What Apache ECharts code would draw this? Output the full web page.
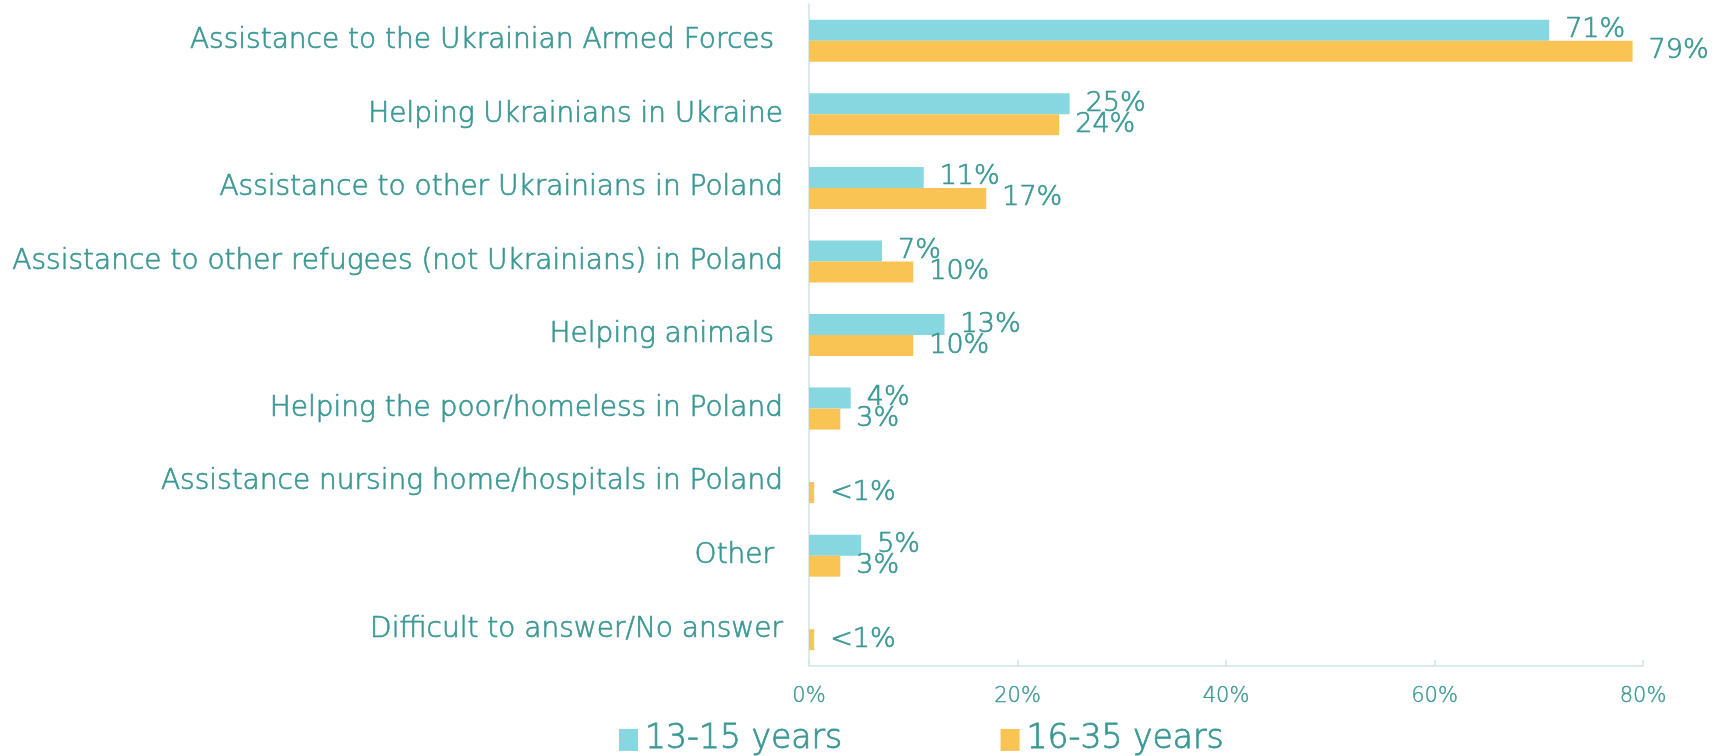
<!DOCTYPE html>
<html>
<head>
<meta charset="utf-8">
<title>Types of assistance by age group</title>
<script src="https://cdn.jsdelivr.net/npm/echarts@6/dist/echarts.min.js"></script>
<style>
  html, body { margin: 0; padding: 0; background: #ffffff; }
  #chart { width: 1715px; height: 756px; }
</style>
</head>
<body>
<div id="chart"></div>
<script>
// Categories, top to bottom
const categories = [
  'Assistance to the Ukrainian Armed Forces ',
  'Helping Ukrainians in Ukraine',
  'Assistance to other Ukrainians in Poland',
  'Assistance to other refugees (not Ukrainians) in Poland',
  'Helping animals ',
  'Helping the poor/homeless in Poland',
  'Assistance nursing home/hospitals in Poland',
  'Other ',
  'Difficult to answer/No answer'
];

// Shares in percent; 0.5 stands for "<1%", null means no answer given
const age13to15 = [71, 25, 11, 7, 13, 4, null, 5, null];
const age16to35 = [79, 24, 17, 10, 10, 3, 0.5, 3, 0.5];

const seriesNames = ['13-15 years', '16-35 years'];
const xTicks = { min: 0, max: 80, interval: 20 };

const TEXT = '#3a9894';
const AXIS = '#cfe5e5';
const FONT = 'DejaVu Sans';
const WEIGHT = 200;

// thin typeface, slightly thickened with an outline of the same colour
const textBase = (size, border) => ({
  color: TEXT,
  fontFamily: FONT,
  fontWeight: WEIGHT,
  fontSize: size,
  textBorderColor: TEXT,
  textBorderWidth: border
});

const fmtPct = p => {
  if (p.value == null) return '';
  return p.value < 1 ? '<1%' : p.value + '%';
};

const makeSeries = (name, values, color) => ({
  name: name,
  type: 'bar',
  data: values,
  barWidth: 21,
  barGap: '0%',
  itemStyle: { color: color },
  label: Object.assign({
    show: true,
    position: 'right',
    distance: 16,
    formatter: fmtPct
  }, textBase(27, 0.7))
});

const chart = echarts.init(document.getElementById('chart'), null, { renderer: 'canvas' });

chart.setOption({
  animation: false,
  backgroundColor: '#ffffff',
  textStyle: { fontFamily: FONT },
  grid: { left: 809, right: 72, top: 4, bottom: 90, containLabel: false },
  legend: {
    data: seriesNames,
    left: 614,
    top: 718,
    itemWidth: 19,
    itemHeight: 22,
    itemGap: 158,
    icon: 'rect',
    textStyle: Object.assign({ padding: [0, 0, 0, 2] }, textBase(33, 0.8))
  },
  xAxis: {
    type: 'value',
    min: xTicks.min,
    max: xTicks.max,
    interval: xTicks.interval,
    axisLine: { show: true, lineStyle: { color: AXIS, width: 1.5 } },
    axisTick: { show: true, inside: true, length: 6, lineStyle: { color: AXIS, width: 1.5 } },
    splitLine: { show: false },
    axisLabel: Object.assign({ formatter: '{value}%', margin: 20 }, textBase(21, 0.4))
  },
  yAxis: {
    type: 'category',
    data: categories,
    inverse: true,
    axisLine: { show: true, lineStyle: { color: AXIS, width: 1.5 } },
    axisTick: { show: false },
    axisLabel: Object.assign({ margin: 26 }, textBase(28, 0.7))
  },
  series: [
    makeSeries(seriesNames[0], age13to15, '#86d7df'),
    makeSeries(seriesNames[1], age16to35, '#f9c454')
  ]
});
</script>
</body>
</html>
